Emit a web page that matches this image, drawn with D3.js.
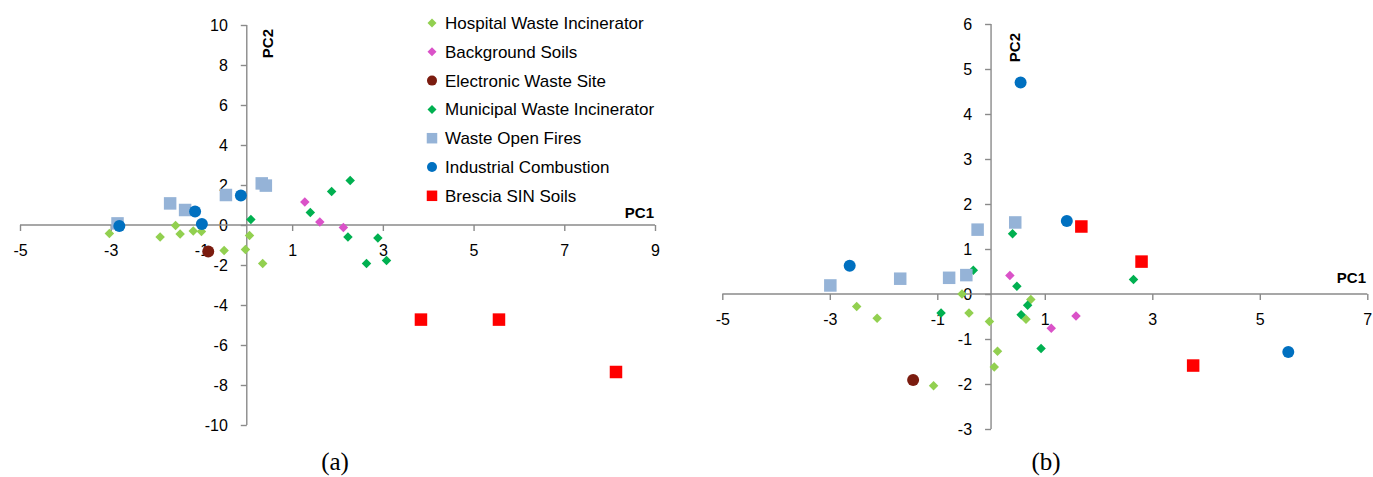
<!DOCTYPE html>
<html>
<head>
<meta charset="utf-8">
<script src="https://cdn.jsdelivr.net/npm/d3@7"></script>
<style>
  html, body { margin: 0; padding: 0; background: #fff; }
  svg { display: block; }
  text { font-family: "Liberation Sans", Arial, sans-serif; fill: #000; }
</style>
</head>
<body>
<svg id="chart" width="1373" height="477"></svg>
<script>
// ---- Series names, colours and marker shapes (legend order) ----
const seriesNames = [
  "Hospital Waste Incinerator",
  "Background Soils",
  "Electronic Waste Site",
  "Municipal Waste Incinerator",
  "Waste Open Fires",
  "Industrial Combustion",
  "Brescia SIN Soils"
];
const seriesColors = ["#92D050", "#DA52C8", "#7B1C0F", "#00B050", "#95B3D7", "#0070C0", "#FF0000"];
const seriesShapes = ["diamond", "diamond", "circle", "diamond", "square", "circle", "square"];

// ---- Panel (a): PC1 / PC2 scores ----
const hospitalA   = [[-3.03,-0.43],[-1.91,-0.60],[-1.57,-0.03],[-1.47,-0.45],[-1.18,-0.30],[-1.00,-0.33],[-0.50,-1.28],[-0.03,-1.23],[0.06,-0.52],[0.35,-1.92]];
const backgroundA = [[1.28,1.15],[1.61,0.15],[2.13,-0.12]];
const electronicA = [[-0.85,-1.33]];
const municipalA  = [[0.09,0.28],[1.40,0.62],[1.87,1.68],[2.28,2.22],[2.23,-0.60],[2.89,-0.65],[2.64,-1.92],[3.08,-1.78]];
const openFiresA  = [[-2.85,0.08],[-1.69,1.08],[-1.36,0.75],[-0.46,1.50],[0.33,2.08],[0.42,1.97]];
const industrialA = [[-2.81,-0.05],[-1.14,0.67],[-0.99,0.05],[-0.13,1.47]];
const bresciaA    = [[3.84,-4.73],[5.56,-4.73],[8.14,-7.35]];

// ---- Panel (b): PC1 / PC2 scores ----
const hospitalB   = [[-2.50,-0.28],[-2.12,-0.54],[-0.54,0.00],[-0.41,-0.42],[-0.03,-0.61],[0.12,-1.27],[0.06,-1.62],[-1.07,-2.04],[0.74,-0.12],[0.65,-0.56]];
const backgroundB = [[0.35,0.41],[1.12,-0.76],[1.58,-0.49]];
const electronicB = [[-1.45,-1.91]];
const municipalB  = [[-0.33,0.53],[-0.93,-0.42],[0.40,1.34],[0.48,0.17],[0.68,-0.25],[0.56,-0.46],[0.93,-1.21],[2.65,0.32]];
const openFiresB  = [[-2.99,0.19],[-1.69,0.34],[-0.78,0.36],[-0.46,0.42],[-0.25,1.43],[0.45,1.59]];
const industrialB = [[-2.63,0.63],[0.55,4.70],[1.41,1.62],[5.53,-1.29]];
const bresciaB    = [[1.68,1.50],[2.80,0.72],[3.76,-1.59]];

// ---- Axis ranges and tick values ----
const xTicksA = [-5, -3, -1, 1, 3, 5, 7, 9];
const yTicksA = [-10, -8, -6, -4, -2, 0, 2, 4, 6, 8, 10];
const xTicksB = [-5, -3, -1, 1, 3, 5, 7];
const yTicksB = [-3, -2, -1, 0, 1, 2, 3, 4, 5, 6];

const panelA = [hospitalA, backgroundA, electronicA, municipalA, openFiresA, industrialA, bresciaA];
const panelB = [hospitalB, backgroundB, electronicB, municipalB, openFiresB, industrialB, bresciaB];

const svg = d3.select("#chart");
const axisColor = "#8A8A8A";
const plainNumber = d => String(d);   // keeps an ASCII hyphen for negatives

// Marker builder: Excel-style diamond, square or circle
function marker(sel, shape, size, color) {
  if (shape === "circle") {
    sel.append("circle").attr("r", size / 2).attr("fill", color);
  } else if (shape === "square") {
    sel.append("rect").attr("x", -size / 2).attr("y", -size / 2)
      .attr("width", size).attr("height", size).attr("fill", color);
  } else {
    const r = size / 2;
    sel.append("path").attr("d", `M0,${-r}L${r},0L0,${r}L${-r},0Z`).attr("fill", color);
  }
}
const markerSize = { diamond: 9.5, circle: 12, square: 12.5 };

function drawPanel(cfg) {
  const x = d3.scaleLinear().domain(cfg.xDomain).range(cfg.xRange);
  const y = d3.scaleLinear().domain(cfg.yDomain).range(cfg.yRange);
  const g = svg.append("g");

  // horizontal axis crossing at PC2 = 0
  const xAxis = g.append("g")
    .attr("transform", `translate(0,${y(0)})`)
    .call(d3.axisBottom(x).tickValues(cfg.xTicks).tickSize(6).tickPadding(14)
      .tickFormat(plainNumber));
  // vertical axis crossing at PC1 = 0
  const yAxis = g.append("g")
    .attr("transform", `translate(${x(0)},0)`)
    .call(d3.axisLeft(y).tickValues(cfg.yTicks).tickSize(6).tickPadding(13)
      .tickFormat(plainNumber));

  [xAxis, yAxis].forEach(a => {
    a.select(".domain").remove();
    a.selectAll(".tick line").attr("stroke", axisColor).attr("stroke-width", 1.4);
    a.selectAll(".tick text").style("font-size", "16px")
      .style("font-family", "'Liberation Sans', Arial, sans-serif").attr("fill", "#000");
  });
  // axis lines spanning the full range
  g.append("line").attr("x1", x.range()[0]).attr("x2", x.range()[1])
    .attr("y1", y(0)).attr("y2", y(0)).attr("stroke", axisColor).attr("stroke-width", 1.4);
  g.append("line").attr("x1", x(0)).attr("x2", x(0))
    .attr("y1", y.range()[0]).attr("y2", y.range()[1]).attr("stroke", axisColor).attr("stroke-width", 1.4);

  // axis titles
  g.append("text").attr("x", cfg.pc1[0]).attr("y", cfg.pc1[1])
    .attr("text-anchor", "end").style("font-size", "15px").style("font-weight", "bold").text("PC1");
  g.append("text").attr("transform", `translate(${cfg.pc2[0]},${cfg.pc2[1]}) rotate(-90)`)
    .attr("text-anchor", "end").style("font-size", "15px").style("font-weight", "bold").text("PC2");

  // points
  cfg.data.forEach((pts, i) => {
    const shape = seriesShapes[i];
    g.append("g").selectAll("g").data(pts).join("g")
      .attr("transform", d => `translate(${x(d[0])},${y(d[1])})`)
      .each(function () { marker(d3.select(this), shape, markerSize[shape], seriesColors[i]); });
  });

  // panel label
  svg.append("text").attr("x", cfg.label[0]).attr("y", cfg.label[1])
    .attr("text-anchor", "middle")
    .style("font-family", "'Liberation Serif', 'Times New Roman', serif")
    .style("font-size", "25px").text(cfg.labelText);
}

drawPanel({
  xDomain: [-5, 9], xRange: [20, 655],
  yDomain: [-10, 10], yRange: [425, 25],
  xTicks: xTicksA, yTicks: yTicksA,
  pc1: [654, 218], pc2: [273, 29],
  data: panelA, label: [335, 470], labelText: "(a)"
});

drawPanel({
  xDomain: [-5, 7], xRange: [722.3, 1367.3],
  yDomain: [-3, 6], yRange: [429, 24],
  xTicks: xTicksB, yTicks: yTicksB,
  pc1: [1366, 283], pc2: [1020, 33],
  data: panelB, label: [1046, 470], labelText: "(b)"
});

// legend
const legend = svg.append("g").attr("transform", "translate(432,23)");
seriesNames.forEach((name, i) => {
  const row = legend.append("g").attr("transform", `translate(0,${i * 28.8})`);
  const s = seriesShapes[i];
  marker(row, s, s === "diamond" ? 9 : s === "circle" ? 10 : 10.5, seriesColors[i]);
  row.append("text").attr("x", 13).attr("y", 6).style("font-size", "17px").text(name);
});
</script>
</body>
</html>
